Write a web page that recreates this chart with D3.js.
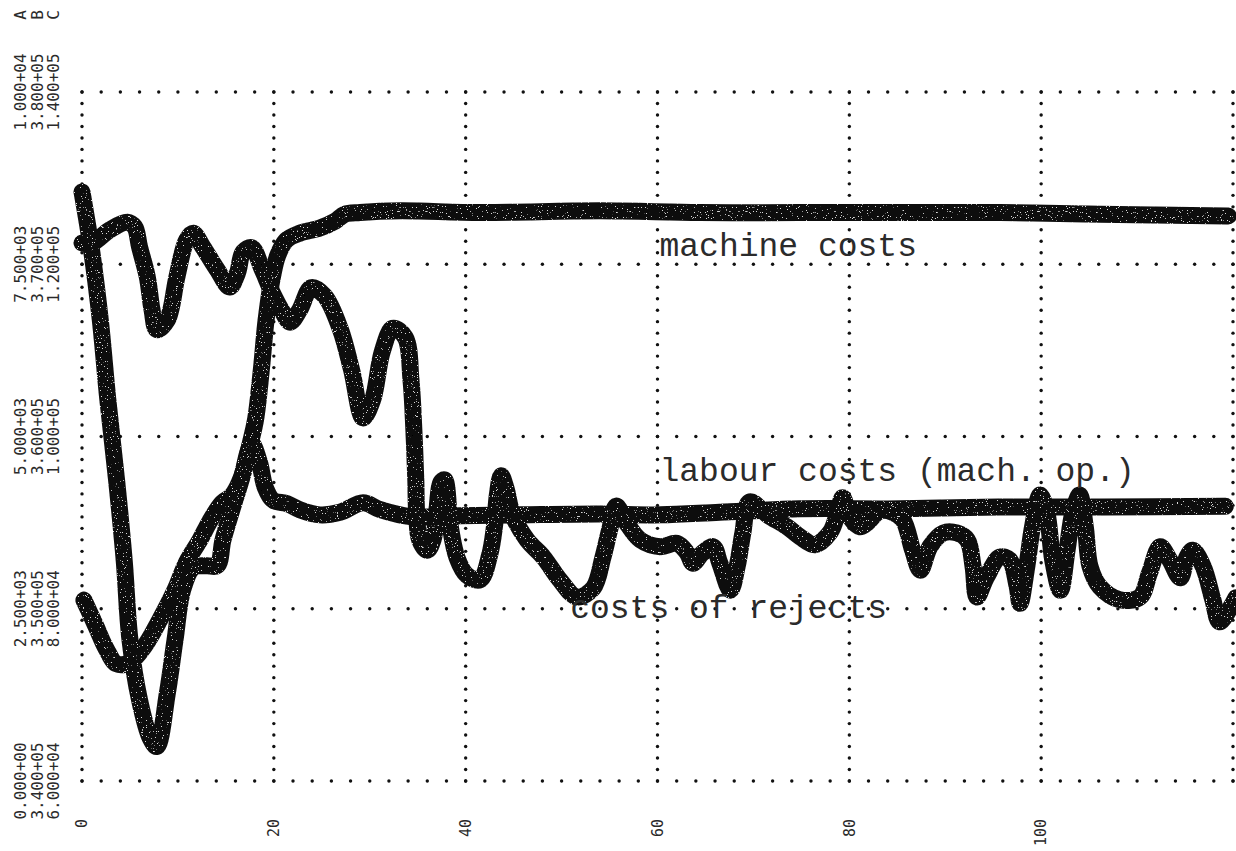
<!DOCTYPE html>
<html>
<head>
<meta charset="utf-8">
<script src="https://cdn.jsdelivr.net/npm/d3@7"></script>
<style>
  html, body { margin: 0; padding: 0; background: #fff; }
  svg { display: block; }
</style>
</head>
<body>
<svg id="chart" width="1236" height="851"></svg>
<script>
// ---- axis ticks -------------------------------------------------------
const xTicks = [0, 20, 40, 60, 80, 100, 120];
const xTickLabels = [0, 20, 40, 60, 80, 100];

// plotting symbols of the three series (one y scale each)
const seriesKeys = ["A", "B", "C"];
const yTicksA = [0, 2500, 5000, 7500, 10000];          // costs of rejects
const yTicksB = [340000, 350000, 360000, 370000, 380000]; // machine costs
const yTicksC = [60000, 80000, 100000, 120000, 140000];   // labour costs

// ---- series B: machine costs -----------------------------------------
const machineX = [0, 1.0, 1.9, 2.7, 3.6, 4.4, 5.0, 6.0, 7.1, 7.8,
  8.9, 9.7, 10.5, 11.6, 13.0, 14.1, 14.7, 15.6, 16.7, 17.5,
  18.1, 18.7, 19.2, 19.8, 20.4, 21.3, 22.7, 24.8, 26.4, 27.4,
  29.0, 33.2, 41.5, 54.0, 64.4, 74.8, 85.3, 95.7, 106.1, 119.5];
const machineY = [374200, 370800, 366800, 362100, 357500, 352800, 348200, 344700, 342500, 342000,
  345100, 348200, 351100, 352400, 352500, 352500, 354000, 355700, 357700, 359500,
  361000, 363900, 366800, 369100, 370500, 371400, 371800, 372100, 372500, 372900,
  373000, 373100, 373000, 373100, 373000, 373000, 373000, 373000, 372900, 372800];

// ---- series C: labour costs (machine operators) ------------------------
const labourX = [0.2, 1.4, 2.5, 3.6, 5.0, 6.6, 8.1, 9.7, 10.9, 12.3,
  13.3, 14.6, 15.6, 16.6, 17.3, 17.7, 18.5, 19.1, 19.9, 21.4,
  22.7, 24.8, 26.9, 29.3, 31.1, 34.2, 39.4, 45.7, 54.0, 60.3,
  66.5, 74.8, 85.3, 95.7, 106.1, 119.2];
const labourY = [81000, 78100, 75400, 73600, 73800, 75800, 78700, 82200, 85400, 88000,
  90100, 92300, 93100, 95200, 98200, 99200, 97000, 94100, 92600, 92200,
  91500, 90900, 91200, 92300, 91500, 90700, 90800, 90900, 91000, 90900,
  91200, 91600, 91600, 91800, 91800, 91900];

// ---- series A: costs of rejects ---------------------------------------
const rejectsX = [0, 1.1, 2.9, 4.7, 5.5, 6.0, 6.8, 7.3, 7.8, 8.9,
  9.9, 10.9, 11.6, 12.6, 14.1, 15.4, 16.2, 16.8, 17.7, 18.8,
  19.8, 20.9, 21.7, 22.7, 23.9, 25.3, 26.9, 28.1, 29.3, 30.3,
  31.3, 32.4, 33.7, 34.3, 34.6, 34.8, 34.9, 35.2, 36.0, 36.6,
  37.0, 37.4, 37.8, 38.4, 39.1, 40.1, 41.5, 42.5, 43.0, 43.3,
  43.7, 44.2, 44.9, 46.4, 48.1, 49.8, 51.6, 53.3, 54.3, 55.0,
  55.7, 56.8, 58.2, 60.3, 62.0, 63.1, 63.7, 64.7, 65.8, 66.5,
  67.6, 68.3, 68.9, 69.6, 71.5, 73.5, 74.9, 76.4, 78.0, 78.8,
  79.3, 80.1, 81.1, 81.8, 83.2, 84.5, 85.6, 86.6, 87.4, 88.4,
  89.8, 91.2, 92.3, 92.9, 93.3, 94.3, 95.7, 96.7, 97.5, 97.8,
  98.5, 99.1, 99.9, 100.6, 101.2, 102.0, 102.7, 103.3, 104.0, 104.6,
  105.1, 106.1, 108.2, 110.3, 111.3, 112.4, 113.4, 114.5, 115.2, 115.8,
  116.9, 117.9, 118.6, 119.7, 120.3];
const rejectsY = [7810, 7810, 8000, 8110, 8040, 7750, 7320, 6840, 6550, 6690,
  7320, 7850, 7950, 7750, 7420, 7170, 7370, 7680, 7740, 7420,
  7100, 6810, 6660, 6840, 7160, 7040, 6570, 5970, 5270, 5530,
  6230, 6570, 6440, 5820, 5090, 4370, 3860, 3500, 3350, 3500,
  3930, 4330, 4370, 3690, 3240, 2990, 2920, 3280, 3690, 4150,
  4430, 4250, 3860, 3500, 3250, 2920, 2670, 2800, 3240, 3640,
  3990, 3740, 3500, 3400, 3450, 3310, 3160, 3310, 3400, 3160,
  2770, 3110, 3600, 4050, 3860, 3690, 3540, 3430, 3610, 3900,
  4110, 3820, 3690, 3740, 3920, 3900, 3790, 3350, 3060, 3400,
  3600, 3600, 3500, 3110, 2670, 2960, 3250, 3210, 2820, 2580,
  3110, 3690, 4150, 3890, 3210, 2770, 3350, 3890, 4150, 3690,
  3110, 2820, 2630, 2670, 3020, 3400, 3210, 2950, 3250, 3350,
  3110, 2630, 2310, 2510, 2660];

// ---- curve captions ----------------------------------------------------
const captionMachine = "machine costs";
const captionLabour = "labour costs (mach. op.)";
const captionRejects = "costs of rejects";

// ---- layout -----------------------------------------------------------
const plot = { left: 82, right: 1233, top: 92, bottom: 781 };
const svg = d3.select("#chart");

const x = d3.scaleLinear().domain([0, 120]).range([plot.left, plot.right]);
const yA = d3.scaleLinear().domain(d3.extent(yTicksA)).range([plot.bottom, plot.top]);
const yB = d3.scaleLinear().domain(d3.extent(yTicksB)).range([plot.bottom, plot.top]);
const yC = d3.scaleLinear().domain(d3.extent(yTicksC)).range([plot.bottom, plot.top]);
// normalised grid row scale: 15 printer lines per tick interval
const row = d3.scaleLinear().domain([0, 60]).range([plot.bottom, plot.top]);

// light speckle for the felt-pen strokes
const defs = svg.append("defs");
const grain = defs.append("filter").attr("id", "grain")
  .attr("filterUnits", "userSpaceOnUse")
  .attr("x", 0).attr("y", 0).attr("width", 1236).attr("height", 851);
grain.append("feTurbulence").attr("type", "fractalNoise")
  .attr("baseFrequency", 0.8).attr("numOctaves", 2).attr("seed", 7).attr("result", "noise");
grain.append("feColorMatrix").attr("in", "noise").attr("type", "matrix")
  .attr("values", "0 0 0 0 0.7  0 0 0 0 0.7  0 0 0 0 0.7  -18 0 0 0 5.6")
  .attr("result", "specks");
grain.append("feComposite").attr("in", "specks").attr("in2", "SourceGraphic")
  .attr("operator", "in").attr("result", "s");
const merge = grain.append("feMerge");
merge.append("feMergeNode").attr("in", "SourceGraphic");
merge.append("feMergeNode").attr("in", "s");

// ---- dotted grid ------------------------------------------------------
const grid = svg.append("g").attr("fill", "#111");
yTicksA.forEach(t => {
  grid.selectAll(null).data(d3.range(0, 121, 2)).join("circle")
    .attr("cx", d => x(d)).attr("cy", yA(t)).attr("r", 1.7);
});
xTicks.forEach(t => {
  grid.selectAll(null).data(d3.range(0, 61)).join("circle")
    .attr("cx", x(t)).attr("cy", d => row(d)).attr("r", 1.7);
});

// ---- y axis labels: three columns, one per series -----------------------
const fmt = v => {
  const [m, e] = v.toExponential(3).split("e");
  const n = Math.abs(+e);
  return m + (+e < 0 ? "-" : "+") + (n < 10 ? "0" : "") + n;
};
const labelFont = "'DejaVu Sans Mono', 'Liberation Mono', monospace";
const colX = [20, 37, 53];
const tickSets = [yTicksA, yTicksB, yTicksC];
const yScales = [yA, yB, yC];

const yLab = svg.append("g").attr("font-family", labelFont).attr("font-size", 16)
  .attr("fill", "#2a2a2a").attr("text-anchor", "middle");
tickSets.forEach((ticks, s) => {
  yLab.selectAll(null).data(ticks).join("text")
    .attr("transform", d => `translate(${colX[s]},${yScales[s](d)}) rotate(-90)`)
    .attr("dy", "0.35em")
    .text(d => fmt(d));
});
// series keys above the label columns
yLab.selectAll(null).data(seriesKeys).join("text")
  .attr("transform", (d, i) => `translate(${colX[i]},15) rotate(-90)`)
  .attr("dy", "0.35em")
  .text(d => d);

// ---- x axis labels ----------------------------------------------------
svg.append("g").attr("font-family", labelFont).attr("font-size", 15)
  .attr("fill", "#2a2a2a").attr("text-anchor", "end")
  .selectAll("text").data(xTickLabels).join("text")
  .attr("transform", d => `translate(${x(d)},${plot.bottom + 38}) rotate(-90)`)
  .attr("dy", "0.35em")
  .text(d => d);

// ---- pen-drawn curves -------------------------------------------------
const curves = svg.append("g").attr("filter", "url(#grain)");
const drawSeries = (xs, ys, yScale) => {
  const pts = xs.map((v, i) => [v, ys[i]]);
  const line = d3.line()
    .x(d => x(d[0])).y(d => yScale(d[1]))
    .curve(d3.curveCatmullRom.alpha(0.5));
  curves.append("path").datum(pts)
    .attr("d", line)
    .attr("fill", "none")
    .attr("stroke", "#0e0e0e")
    .attr("stroke-width", 17)
    .attr("stroke-linecap", "round")
    .attr("stroke-linejoin", "round");
};
drawSeries(machineX, machineY, yB);
drawSeries(labourX, labourY, yC);
drawSeries(rejectsX, rejectsY, yA);

// ---- typed captions ---------------------------------------------------
const capFont = "'Liberation Mono', 'DejaVu Sans Mono', monospace";
const caps = svg.append("g").attr("font-family", capFont).attr("font-size", 33)
  .attr("fill", "#2b2b2b");
caps.append("text").attr("x", x(60) + 2).attr("y", yB(370450)).text(captionMachine);
caps.append("text").attr("x", x(60) + 2).attr("y", yC(94800)).text(captionLabour);
caps.append("text").attr("x", x(50.9)).attr("y", yA(2370)).text(captionRejects);
</script>
</body>
</html>
